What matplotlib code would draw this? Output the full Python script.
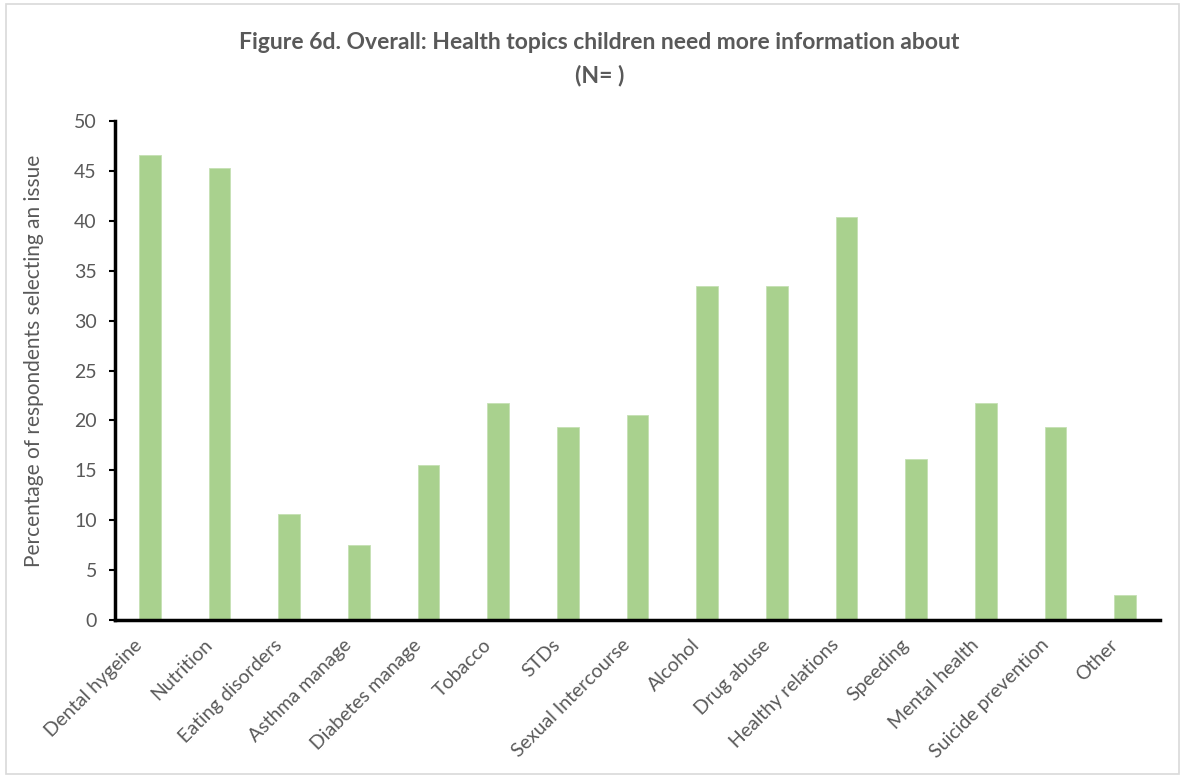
import matplotlib
matplotlib.use("Agg")
import matplotlib.pyplot as plt
from matplotlib.patches import Rectangle
from matplotlib.transforms import ScaledTranslation

categories = ["Dental hygeine", "Nutrition", "Eating disorders", "Asthma manage",
              "Diabetes manage", "Tobacco", "STDs", "Sexual Intercourse", "Alcohol",
              "Drug abuse", "Healthy relations", "Speeding", "Mental health",
              "Suicide prevention", "Other"]
values = [46.6, 45.3, 10.6, 7.5, 15.5, 21.7, 19.3, 20.5, 33.5, 33.5, 40.4, 16.1, 21.7, 19.3, 2.5]
yticks = [0, 5, 10, 15, 20, 25, 30, 35, 40, 45, 50]

plt.rcParams['font.family'] = ['Lato', 'DejaVu Sans']
txt = '#595959'

fig = plt.figure(figsize=(11.85, 7.78), dpi=100)
ax = fig.add_axes([0.097, 0.203, 0.882, 0.6415])

x = list(range(len(categories)))
ax.bar(x, values, width=0.31, color='#A9D18E', edgecolor='#C5E0B4', linewidth=0.6, zorder=2)

ax.set_xlim(-0.5, len(categories) - 0.5)
ax.set_ylim(0, 50)
ax.set_yticks(yticks)
ax.set_xticks(x)
ax.set_xticklabels(categories, rotation=45, ha='right', va='center', rotation_mode='anchor',
                   fontsize=14, color=txt)
ax.tick_params(axis='x', length=0, pad=16)
offset = ScaledTranslation(-0.1, 0, fig.dpi_scale_trans)
for lab in ax.get_xticklabels():
    lab.set_transform(lab.get_transform() + offset)
ax.tick_params(axis='y', length=4, width=1.5, direction='out', labelsize=14,
               labelcolor=txt, color='black', pad=9)

for s in ['top', 'right']:
    ax.spines[s].set_visible(False)
for s in ['left', 'bottom']:
    ax.spines[s].set_linewidth(2.5)
    ax.spines[s].set_color('black')

ax.set_ylabel('Percentage of respondents selecting an issue', fontsize=15, color=txt)
ax.yaxis.set_label_coords(-0.068, 0.52)

fig.text(0.506, 0.945, 'Figure 6d. Overall: Health topics children need more information about',
         ha='center', va='center', fontsize=16.5, fontweight='bold', color=txt)
fig.text(0.506, 0.903, '(N= )', ha='center', va='center', fontsize=16.5, fontweight='bold', color=txt)

fig.patches.append(Rectangle((0.005, 0.005), 0.99, 0.99, transform=fig.transFigure,
                             fill=False, edgecolor='#D9D9D9', linewidth=1.2))

fig.savefig('out.png', dpi=100)
